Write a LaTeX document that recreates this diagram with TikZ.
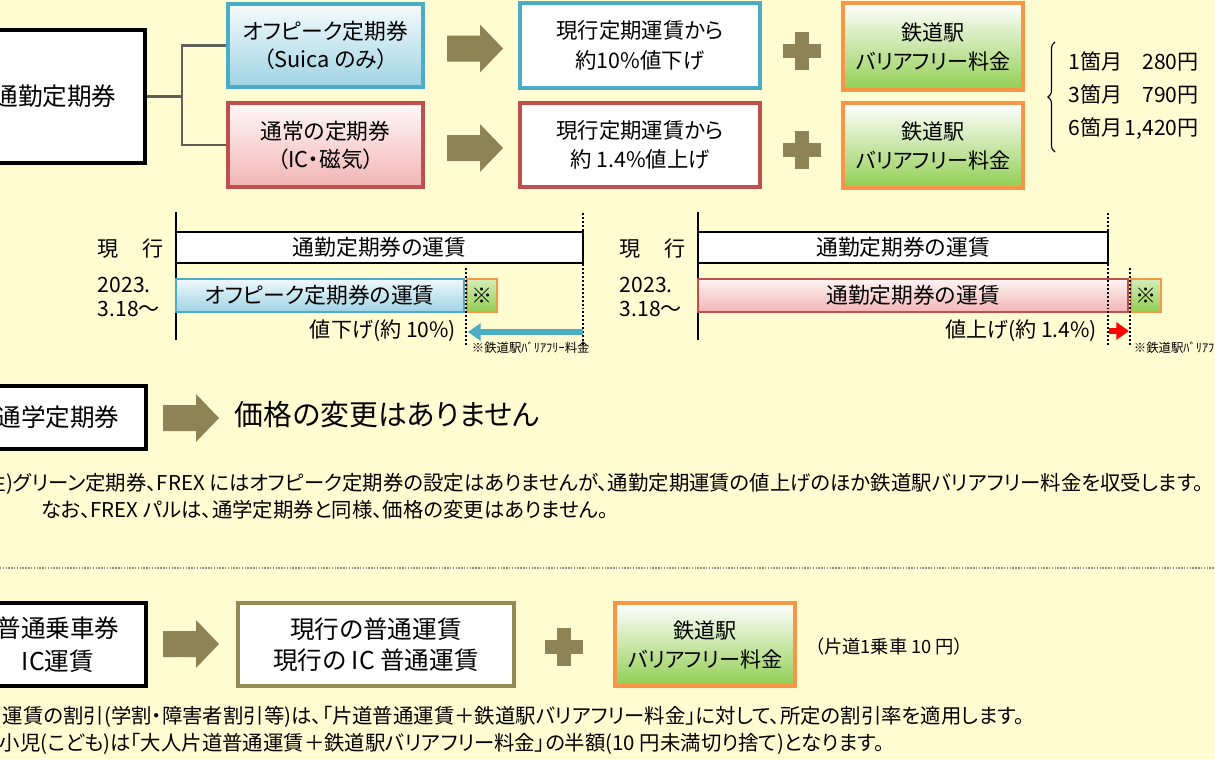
\documentclass[tikz,border=0pt]{standalone}
\usepackage{fontspec}
\setmainfont{Noto Sans CJK JP}[RawFeature=+palt]
\usetikzlibrary{arrows.meta,decorations.pathreplacing}

\definecolor{paper}{RGB}{255,252,210}
\definecolor{olivefat}{RGB}{142,131,84}
\definecolor{offblue}{RGB}{75,172,198}
\definecolor{skyblue}{RGB}{158,211,227}
\definecolor{regred}{RGB}{192,80,77}
\definecolor{pinkish}{RGB}{243,180,180}
\definecolor{feeorange}{RGB}{247,150,70}
\definecolor{feegreen}{RGB}{146,206,82}
\definecolor{linkgray}{RGB}{95,95,90}
\definecolor{curolive}{RGB}{148,138,84}

\begin{document}
\begin{tikzpicture}[x=0.025cm,y=-0.025cm,
    sz/.style 2 args={minimum width=#1*0.025cm,minimum height=#2*0.025cm,inner sep=0pt},
    headbox/.style={draw=black,line width=2.2pt,fill=white,align=center,font=\fontsize{17.5}{23}\selectfont},
    offbox/.style={draw=offblue,line width=2.2pt,top color=white!90!skyblue,bottom color=skyblue,align=center,font=\fontsize{15.5}{20}\selectfont},
    regbox/.style={offbox,draw=regred,top color=white!90!pinkish,bottom color=pinkish},
    fareoff/.style={draw=offblue,line width=2.2pt,fill=white,align=center,font=\fontsize{15.2}{21}\selectfont},
    farereg/.style={fareoff,draw=regred},
    curbox/.style={draw=curolive,line width=2.2pt,fill=white,align=center,font=\fontsize{17.5}{22}\selectfont},
    feebox/.style={draw=feeorange,line width=2.2pt,top color=white,bottom color=feegreen,align=center,font=\fontsize{15}{20.6}\selectfont},
    bar/.style={draw=black,line width=1.5pt,fill=white,font=\fontsize{15.5}{18}\selectfont},
    offbar/.style={bar,draw=offblue,top color=white!85!skyblue,bottom color=skyblue},
    regbar/.style={bar,draw=regred,top color=white!85!pinkish,bottom color=pinkish},
    starbox/.style={draw=feeorange,line width=1.5pt,top color=white!60!feegreen,bottom color=feegreen,font=\fontsize{15}{18}\selectfont},
    lab/.style={anchor=west,align=left,font=\fontsize{15}{17}\selectfont},
    note/.style={anchor=west,font=\fontsize{14.5}{17}\selectfont},
    tiny/.style={anchor=west,font=\fontsize{8.8}{10}\selectfont},
    link/.style={draw=linkgray,line width=1.6pt},
    axis/.style={line width=1.8pt},
    dots/.style={line width=2pt,dash pattern=on 1.4pt off 1.4pt},
    fatarrow/.pic={\fill[olivefat] (-28,-13) -- (5,-13) -- (5,-24) -- (28,0) -- (5,24) -- (5,13) -- (-28,13) -- cycle;},
    plussign/.pic={\fill[olivefat] (-19,-7) rectangle (19,7); \fill[olivefat] (-7,-19) rectangle (7,19);}]

\fill[paper] (0,0) rectangle (1215,759);
\useasboundingbox (0,0) rectangle (1215,759);

\node[headbox,sz={180}{133}] (commute) at (55,96.5) {通勤定期券};
\node[offbox,sz={195}{83}] (offpeak) at (325.5,45.5) {オフピーク定期券\\（Suica のみ）};
\node[regbox,sz={195}{84}] (normal) at (325.5,145) {通常の定期券\\（IC・磁気）};
\coordinate (fork) at (182,96.5);
\draw[link] (commute) -- (fork);
\draw[link] (offpeak.west) -| (fork) |- (normal.west);

\pic at (475,48.5) {fatarrow};
\pic at (475,148) {fatarrow};
\node[fareoff,sz={240}{85}] (down) at (640,45.5) {現行定期運賃から\\約10\%値下げ};
\node[farereg,sz={240}{84}] (up) at (640,145) {現行定期運賃から\\約 1.4\%値上げ};
\pic at (802,51) {plussign};
\pic at (802,150) {plussign};
\node[feebox,sz={180}{87}] (fee1) at (933,46.5) {鉄道駅\\バリアフリー料金};
\node[feebox,sz={180}{85}] (fee2) at (933,145.5) {鉄道駅\\バリアフリー料金};
\coordinate (braceb) at (1055,152);
\coordinate (bracet) at (1055,42);
\draw[decorate,decoration={brace,amplitude=5pt},line width=0.8pt] (braceb) -- (bracet);
\node[anchor=west,inner sep=0pt,font=\fontsize{15}{23.5}\selectfont] (prices) at (1068,96) {%
  \begin{tabular}{@{}l@{\hspace{2pt}}r@{}}
    1箇月 & 280円\\
    3箇月 & 790円\\
    6箇月 & 1,420円
  \end{tabular}};

\draw[axis] (176,212) -- (176,340);
\node[bar,sz={407}{31}] (nowA) at (379.5,247.5) {通勤定期券の運賃};
\node[offbar,sz={288}{33}] (offA) at (320,295.5) {オフピーク定期券の運賃};
\node[starbox,sz={30}{33}] (starA) at (482,295.5) {※};
\draw[dots] (583,213) -- (583,345);
\draw[dots] (466,268) -- (466,345);
\coordinate (cutA) at (583,332);
\coordinate (cutB) at (468,332);
\draw[offblue,line width=3.6pt,-{Triangle[length=9pt,width=12pt]}] (cutA) -- (cutB);
\node[anchor=east,font=\fontsize{15}{17}\selectfont] (dropA) at (461,331) {値下げ(約 10\%)};
\node[tiny] (feeA) at (467,348) {※鉄道駅ﾊﾞﾘｱﾌﾘｰ料金};
\node[lab] (nowlabA) at (93,249) {現\hspace{1.1em}行};
\node[lab] (datelabA) at (93,297) {2023.\\3.18～};

\draw[axis] (698,212) -- (698,340);
\node[bar,sz={410}{31}] (nowB) at (903,247.5) {通勤定期券の運賃};
\node[regbar,sz={430}{33}] (regB) at (913,295.5) {通勤定期券の運賃};
\node[starbox,sz={30}{33}] (starB) at (1146,295.5) {※};
\draw[dots] (1108,213) -- (1108,345);
\draw[dots] (1130,268) -- (1130,345);
\coordinate (riseA) at (1109,331);
\coordinate (riseB) at (1129,331);
\draw[red,line width=3.6pt,-{Triangle[length=9pt,width=12pt]}] (riseA) -- (riseB);
\node[anchor=east,font=\fontsize{15}{17}\selectfont] (upB) at (1102,331) {値上げ(約 1.4\%)};
\node[tiny] (feeB) at (1129,348) {※鉄道駅ﾊﾞﾘｱﾌﾘｰ料金};
\node[lab] (nowlabB) at (615,249) {現\hspace{1.1em}行};
\node[lab] (datelabB) at (615,297) {2023.\\3.18～};

\node[headbox,sz={176}{63}] (school) at (58,417.5) {通学定期券};
\pic at (191,418) {fatarrow};
\node[anchor=west,font=\fontsize{20.5}{24}\selectfont] (nochange) at (230,415) {価格の変更はありません};

\node[note] (remark1) at (-19,484) {注)グリーン定期券、FREX にはオフピーク定期券の設定はありませんが、通勤定期運賃の値上げのほか鉄道駅バリアフリー料金を収受します。};
\node[note] (remark2) at (36,510) {なお、FREX パルは、通学定期券と同様、価格の変更はありません。};

\draw[linkgray!70,line width=1.2pt,dash pattern=on 1pt off 1pt] (0,568) -- (1215,568);

\node[headbox,sz={176}{83}] (single) at (58,644.5) {普通乗車券\\IC運賃};
\pic at (191,644) {fatarrow};
\node[curbox,sz={276}{83}] (curfare) at (376,644.5) {現行の普通運賃\\現行の IC 普通運賃};
\pic at (564,647) {plussign};
\node[feebox,sz={180}{83}] (fee3) at (705,644.5) {鉄道駅\\バリアフリー料金};
\node[anchor=west,font=\fontsize{13}{16}\selectfont] (perride) at (810,647) {（片道1乗車 10 円）};

\node[note] (discount) at (-2,717) {運賃の割引(学割・障害者割引等)は、「片道普通運賃＋鉄道駅バリアフリー料金」に対して、所定の割引率を適用します。};
\node[note] (child) at (-5,744) {小児(こども)は「大人片道普通運賃＋鉄道駅バリアフリー料金」の半額(10 円未満切り捨て)となります。};
\end{tikzpicture}
\end{document}
